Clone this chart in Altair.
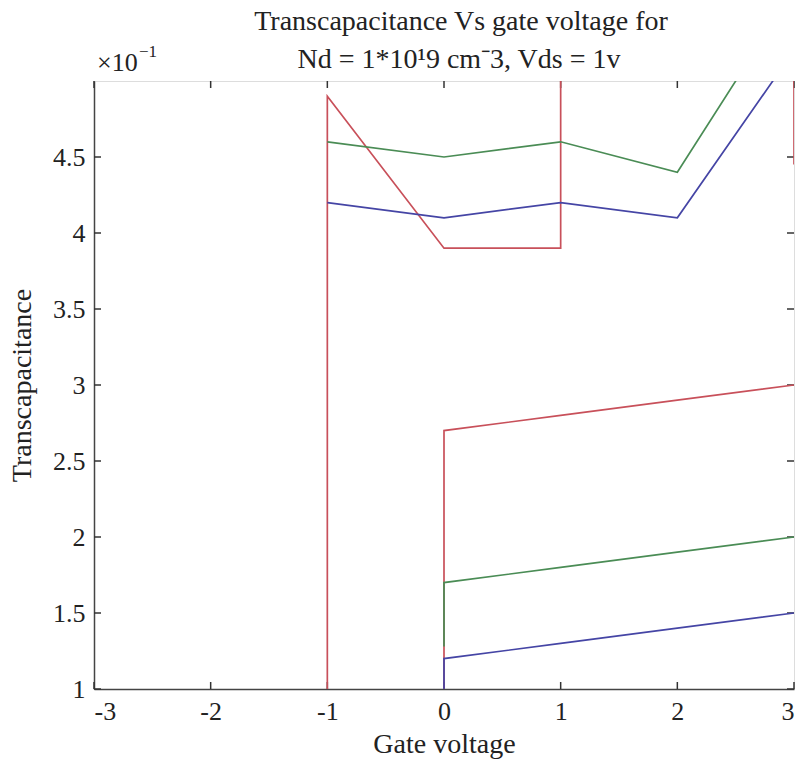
import altair as alt
import pandas as pd

# Segments (x = gate voltage, y = transcapacitance x10^-1)
red1_x = [-1, -1, 0, 1, 1]
red1_y = [1.0, 4.9, 3.9, 3.9, 5.5]
red2_x = [0, 0, 1, 2, 3]
red2_y = [1.0, 2.7, 2.8, 2.9, 3.0]
red3_x = [3, 3]
red3_y = [5.5, 4.45]
green1_x = [-1, 0, 1, 2, 3]
green1_y = [4.6, 4.5, 4.6, 4.4, 5.6]
green2_x = [0, 0, 1, 2, 3]
green2_y = [1.28, 1.7, 1.8, 1.9, 2.0]
blue1_x = [-1, 0, 1, 2, 3]
blue1_y = [4.2, 4.1, 4.2, 4.1, 5.2]
blue2_x = [0, 0, 1, 2, 3]
blue2_y = [1.0, 1.2, 1.3, 1.4, 1.5]

x_ticks = [-3, -2, -1, 0, 1, 2, 3]
y_ticks = [1, 1.5, 2, 2.5, 3, 3.5, 4, 4.5]

title_lines = ["Transcapacitance Vs gate voltage for", "Nd = 1*10¹9 cm⁻3, Vds = 1v"]

segments = [
    ("r1", "red", red1_x, red1_y),
    ("r2", "red", red2_x, red2_y),
    ("r3", "red", red3_x, red3_y),
    ("g1", "green", green1_x, green1_y),
    ("g2", "green", green2_x, green2_y),
    ("b1", "blue", blue1_x, blue1_y),
    ("b2", "blue", blue2_x, blue2_y),
]
rows = []
for seg, series, xs, ys in segments:
    for i, (xv, yv) in enumerate(zip(xs, ys)):
        rows.append({"seg": seg, "series": series, "x": xv, "y": yv, "i": i})
df = pd.DataFrame(rows)

FONT = "Liberation Serif"
W, H = 700, 608
LBL = 26
TTL = 28

xscale = alt.Scale(domain=[-3, 3], nice=False, zero=False)
yscale = alt.Scale(domain=[1, 5], nice=False, zero=False)

lines = alt.Chart(df).mark_line(strokeWidth=1.7, clip=True).encode(
    x=alt.X("x:Q", scale=xscale,
            axis=alt.Axis(values=x_ticks, title="Gate voltage", grid=False,
                          tickSize=0, labelPadding=9, labelFontSize=LBL,
                          labelFont=FONT, titleFont=FONT, titleFontSize=TTL,
                          titleFontWeight="normal", titlePadding=6,
                          labelColor="#222", titleColor="#222",
                          domainColor="#444", domainWidth=1.5,
                          labelExpr="datum.value < 0 ? '-' + abs(datum.value) : '' + datum.value")),
    y=alt.Y("y:Q", scale=yscale,
            axis=alt.Axis(values=y_ticks, title="Transcapacitance", grid=False,
                          tickSize=0, labelPadding=9, labelFontSize=LBL,
                          labelFont=FONT, titleFont=FONT, titleFontSize=TTL,
                          titleFontWeight="normal", titlePadding=16,
                          labelColor="#222", titleColor="#222",
                          domainColor="#444", domainWidth=1.5,
                          labelExpr="'' + datum.value")),
    color=alt.Color("series:N", legend=None,
                    scale=alt.Scale(domain=["red", "green", "blue"],
                                    range=["#c8505a", "#4a8c55", "#4545a5"])),
    detail="seg:N",
    order="i:Q",
)

xt = pd.DataFrame({"x": x_ticks})
yt = pd.DataFrame({"y": y_ticks})

tick_style = dict(color="#333", strokeWidth=1.5)
bottom_ticks = alt.Chart(xt).mark_rule(**tick_style).encode(
    x=alt.X("x:Q", scale=xscale), y=alt.value(H), y2=alt.value(H - 7))
top_ticks = alt.Chart(xt).mark_rule(**tick_style).encode(
    x=alt.X("x:Q", scale=xscale), y=alt.value(0), y2=alt.value(7))
left_ticks = alt.Chart(yt).mark_rule(**tick_style).encode(
    y=alt.Y("y:Q", scale=yscale), x=alt.value(0), x2=alt.value(7))
right_ticks = alt.Chart(yt).mark_rule(**tick_style).encode(
    y=alt.Y("y:Q", scale=yscale), x=alt.value(W), x2=alt.value(W - 7))

mult = alt.Chart(pd.DataFrame({"t": ["×10"]})).mark_text(
    align="left", baseline="alphabetic", font=FONT, fontSize=26, color="#222"
).encode(x=alt.value(3), y=alt.value(-10), text="t:N")
mult_exp = alt.Chart(pd.DataFrame({"t": ["−1"]})).mark_text(
    align="left", baseline="alphabetic", font=FONT, fontSize=17, color="#222"
).encode(x=alt.value(45), y=alt.value(-24), text="t:N")

title1 = alt.Chart(pd.DataFrame({"t": [title_lines[0]]})).mark_text(
    align="center", baseline="middle", font=FONT, fontSize=TTL, color="#222"
).encode(x=alt.value(367), y=alt.value(-59), text="t:N")
title2 = alt.Chart(pd.DataFrame({"t": [title_lines[1]]})).mark_text(
    align="center", baseline="middle", font=FONT, fontSize=TTL, color="#222"
).encode(x=alt.value(365), y=alt.value(-21), text="t:N")

chart = alt.layer(
    bottom_ticks, top_ticks, left_ticks, right_ticks, lines,
    mult, mult_exp, title1, title2
).properties(
    width=W, height=H,
    autosize=alt.AutoSizeParams(type="none"),
    padding={"left": 94, "top": 81, "right": 15, "bottom": 76},
).configure_view(stroke="#444", strokeWidth=1.5).configure(background="white")

chart.save("out.html", embed_options={"renderer": "svg", "actions": False})
